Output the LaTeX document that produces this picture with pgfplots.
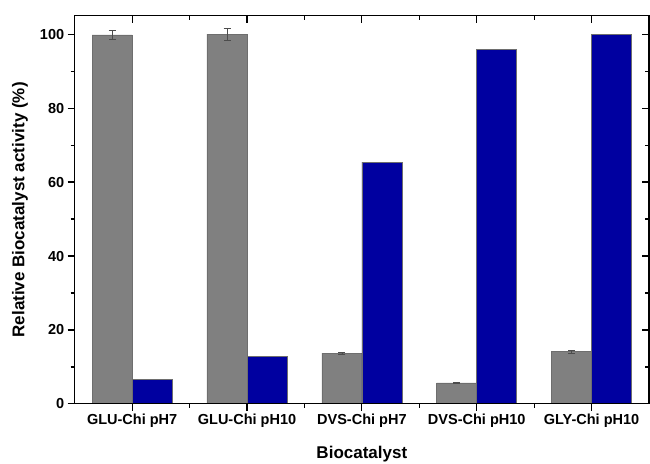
\documentclass[border=0pt]{standalone}
\usepackage{pgfplots}
\pgfplotsset{compat=1.18}
\usepackage{fontspec}
\setmainfont{Liberation Sans}
\definecolor{bargrey}{RGB}{128,128,128}
\definecolor{barblue}{RGB}{0,0,160}
\definecolor{edgegrey}{RGB}{110,110,110}
\begin{document}
\begin{tikzpicture}
\pgfplotsset{
  common/.style={
    scale only axis, width=574pt, height=388pt,
    xmin=0.5, xmax=5.5, ymin=0, ymax=105,
    xtick={1,2,3,4,5}, ytick={0,20,40,60,80,100},
    minor x tick num=1, minor y tick num=1,
    major tick length=7pt, minor tick length=4pt,
    every tick/.style={line width=1.2pt, black},
    axis line style={line width=1.2pt},
  }
}
\begin{axis}[common,
  name=main,
  xtick pos=bottom, ytick pos=left, tick align=outside,
  xticklabels={GLU-Chi pH7, GLU-Chi pH10, DVS-Chi pH7, DVS-Chi pH10, GLY-Chi pH10},
  ticklabel style={font=\fontsize{14.5}{16}\selectfont\bfseries},
  /pgf/number format/assume math mode=true,
  ylabel={Relative Biocatalyst activity (\%)},
  ylabel style={font=\fontsize{17}{19}\selectfont\bfseries, at={(axis description cs:0,0.5)}, yshift=54.7pt, anchor=center},
  xlabel={Biocatalyst},
  xlabel style={font=\fontsize{17}{19}\selectfont\bfseries, at={(axis description cs:0.5,0)}, yshift=-55pt, anchor=base},
  ybar=0pt, bar width=40pt,
]
\addplot[fill=bargrey, draw=edgegrey, line width=0.6pt,
  error bars/.cd, y dir=both, y explicit,
  error bar style={line width=0.6pt, color=black!70},
  error mark options={rotate=90, mark size=3.5pt, line width=0.6pt, black!70}]
  coordinates {(1,99.8) +- (0,1.3) (2,100) +- (0,1.6) (3,13.7) +- (0,0.3) (4,5.7) +- (0,0.2) (5,14.1) +- (0,0.4)};
\addplot[fill=barblue, draw=edgegrey, line width=0.6pt]
  coordinates {(1,6.7) (2,12.9) (3,65.4) (4,95.8) (5,100)};
\end{axis}
\begin{axis}[common,
  xtick pos=top, ytick pos=right, tick align=inside,
  xticklabels={}, yticklabels={},
]
\end{axis}
\pgfresetboundingbox
\path ([xshift=-74.7pt,yshift=-60pt]main.south west) rectangle ([xshift=1pt,yshift=15.7pt]main.north east);
\end{tikzpicture}
\end{document}
